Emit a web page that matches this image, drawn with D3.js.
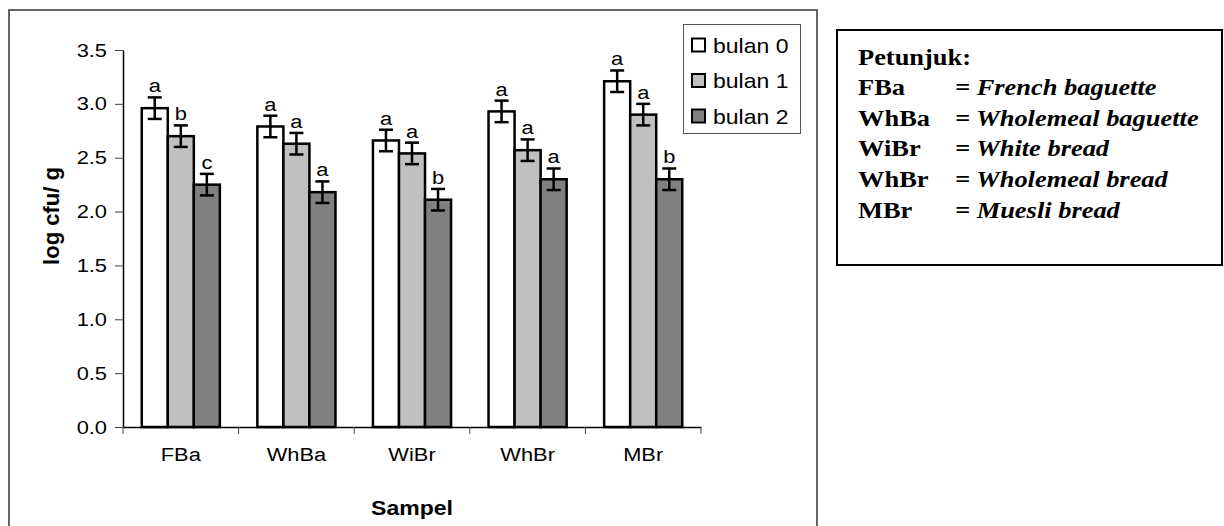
<!DOCTYPE html>
<html>
<head>
<meta charset="utf-8">
<script src="https://cdn.jsdelivr.net/npm/d3@7"></script>
<style>
  body { margin: 0; background: #fff; }
  svg text { font-family: "Liberation Sans", Arial, sans-serif; fill: #000; }
  .serif { font-family: "Liberation Serif", "Times New Roman", serif; }
</style>
</head>
<body>
<svg id="chart" width="1224" height="526"></svg>
<script>
// ---- data ----
var samples = ["FBa", "WhBa", "WiBr", "WhBr", "MBr"];
var seriesNames = ["bulan 0", "bulan 1", "bulan 2"];
var bulan0 = [2.96, 2.79, 2.66, 2.93, 3.21];
var bulan1 = [2.70, 2.63, 2.54, 2.57, 2.90];
var bulan2 = [2.25, 2.18, 2.11, 2.30, 2.30];
var err0 = [0.10, 0.10, 0.10, 0.10, 0.10];
var err1 = [0.10, 0.10, 0.10, 0.10, 0.10];
var err2 = [0.10, 0.10, 0.10, 0.10, 0.10];
var letters0 = ["a", "a", "a", "a", "a"];
var letters1 = ["b", "a", "a", "a", "a"];
var letters2 = ["c", "a", "b", "a", "b"];
var yTicks = [0, 0.5, 1.0, 1.5, 2.0, 2.5, 3.0, 3.5];
var keyCodes = ["FBa", "WhBa", "WiBr", "WhBr", "MBr"];
var keyNames = ["French baguette", "Wholemeal baguette", "White bread", "Wholemeal bread", "Muesli bread"];

var fills = ["#ffffff", "#c0c0c0", "#808080"];
var series = [
  {name: seriesNames[0], values: bulan0, errs: err0, letters: letters0},
  {name: seriesNames[1], values: bulan1, errs: err1, letters: letters1},
  {name: seriesNames[2], values: bulan2, errs: err2, letters: letters2}
];

// the original picture is a bit wider than tall, text looks stretched sideways
var SX = 1.15;

var svg = d3.select("#chart");

// text helper: put text at x,y and widen it a little
function label(parent, x, y, txt, size, cls) {
  return parent.append("text")
    .attr("class", cls || null)
    .attr("transform", "translate(" + x + "," + y + ") scale(" + SX + ",1)")
    .style("font-size", size + "px")
    .text(txt);
}

// outer chart frame
svg.append("rect")
  .attr("x", 9).attr("y", 10).attr("width", 808).attr("height", 600)
  .attr("fill", "none").attr("stroke", "#333").attr("stroke-width", 1.5);

// scales
var y = d3.scaleLinear().domain([0, 3.5]).range([427, 50]);
var x0 = d3.scaleBand().domain(samples).range([123, 701]);
var x1 = d3.scaleBand().domain(seriesNames).range([0, x0.bandwidth()])
  .paddingInner(0).paddingOuter(0.72);

// y axis
var yAxis = svg.append("g")
  .attr("transform", "translate(123,0)")
  .call(d3.axisLeft(y).tickValues(yTicks).tickFormat(d3.format(".1f"))
    .tickSize(8).tickSizeOuter(0));
yAxis.select(".domain").attr("stroke", "#000").attr("stroke-width", 1.5);
yAxis.selectAll(".tick line").attr("stroke", "#444");
yAxis.selectAll(".tick text")
  .attr("x", -16 / SX)
  .attr("transform", "scale(" + SX + ",1)")
  .style("font-size", "19px")
  .style("font-family", "'Liberation Sans', Arial, sans-serif").attr("fill", "#000");

// x axis (labels centred, ticks between categories)
var xAxis = svg.append("g")
  .attr("transform", "translate(0,427)")
  .call(d3.axisBottom(x0).tickSize(0).tickSizeOuter(0).tickPadding(21));
xAxis.select(".domain").attr("stroke", "#000").attr("stroke-width", 1.5);
xAxis.selectAll(".tick text")
  .attr("transform", "scale(" + SX + ",1)")
  .style("font-size", "19px")
  .style("font-family", "'Liberation Sans', Arial, sans-serif").attr("fill", "#000");
var edges = samples.map(function(d) { return x0(d); }).concat([x0.range()[1]]);
xAxis.selectAll(".edge").data(edges).enter().append("line")
  .attr("class", "edge")
  .attr("x1", function(d) { return d; }).attr("x2", function(d) { return d; })
  .attr("y1", 0).attr("y2", 7)
  .attr("stroke", "#444").attr("stroke-width", 1);

// axis titles
label(svg, 412, 515, "Sampel", 20)
  .attr("text-anchor", "middle").style("font-weight", "bold");
svg.append("text")
  .attr("transform", "translate(59,216) rotate(-90)")
  .attr("text-anchor", "middle")
  .style("font-size", "22px").style("font-weight", "bold")
  .text("log cfu/ g");

// bars, error bars, letters
series.forEach(function(s, si) {
  var g = svg.append("g").attr("class", "series");
  samples.forEach(function(cat, ci) {
    var v = s.values[ci], e = s.errs[ci];
    var bx = x0(cat) + x1(s.name);
    var bw = x1.bandwidth();
    var cx = bx + bw / 2;
    g.append("rect")
      .attr("x", bx).attr("y", y(v))
      .attr("width", bw).attr("height", y(0) - y(v))
      .attr("fill", fills[si]).attr("stroke", "#000").attr("stroke-width", 2.5);
    g.append("line")
      .attr("x1", cx).attr("x2", cx).attr("y1", y(v - e)).attr("y2", y(v + e))
      .attr("stroke", "#000").attr("stroke-width", 2.5);
    [v - e, v + e].forEach(function(t) {
      g.append("line")
        .attr("x1", cx - 7).attr("x2", cx + 7).attr("y1", y(t)).attr("y2", y(t))
        .attr("stroke", "#000").attr("stroke-width", 2.5);
    });
    label(g, cx, y(v + e) - 5, s.letters[ci], 19).attr("text-anchor", "middle");
  });
});

// legend
var legend = svg.append("g");
legend.append("rect")
  .attr("x", 683.5).attr("y", 24.5).attr("width", 117).attr("height", 109)
  .attr("fill", "#fff").attr("stroke", "#555").attr("stroke-width", 1);
series.forEach(function(s, i) {
  var cy = 45 + i * 35.5;
  legend.append("rect")
    .attr("x", 692).attr("y", cy - 6.5).attr("width", 13).attr("height", 13)
    .attr("fill", fills[i]).attr("stroke", "#000").attr("stroke-width", 2);
  label(legend, 713, cy + 7.5, s.name, 20);
});

// key box on the right
svg.append("rect")
  .attr("x", 837).attr("y", 30).attr("width", 385).attr("height", 235)
  .attr("fill", "none").attr("stroke", "#000").attr("stroke-width", 2);
label(svg, 858, 64.5, "Petunjuk:", 23, "serif").style("font-weight", "bold");
keyCodes.forEach(function(code, i) {
  var by = 64.5 + (i + 1) * 30.6;
  label(svg, 858, by, code, 23, "serif").style("font-weight", "bold");
  label(svg, 955, by, "= " + keyNames[i], 23, "serif")
    .style("font-weight", "bold").style("font-style", "italic");
});
</script>
</body>
</html>
